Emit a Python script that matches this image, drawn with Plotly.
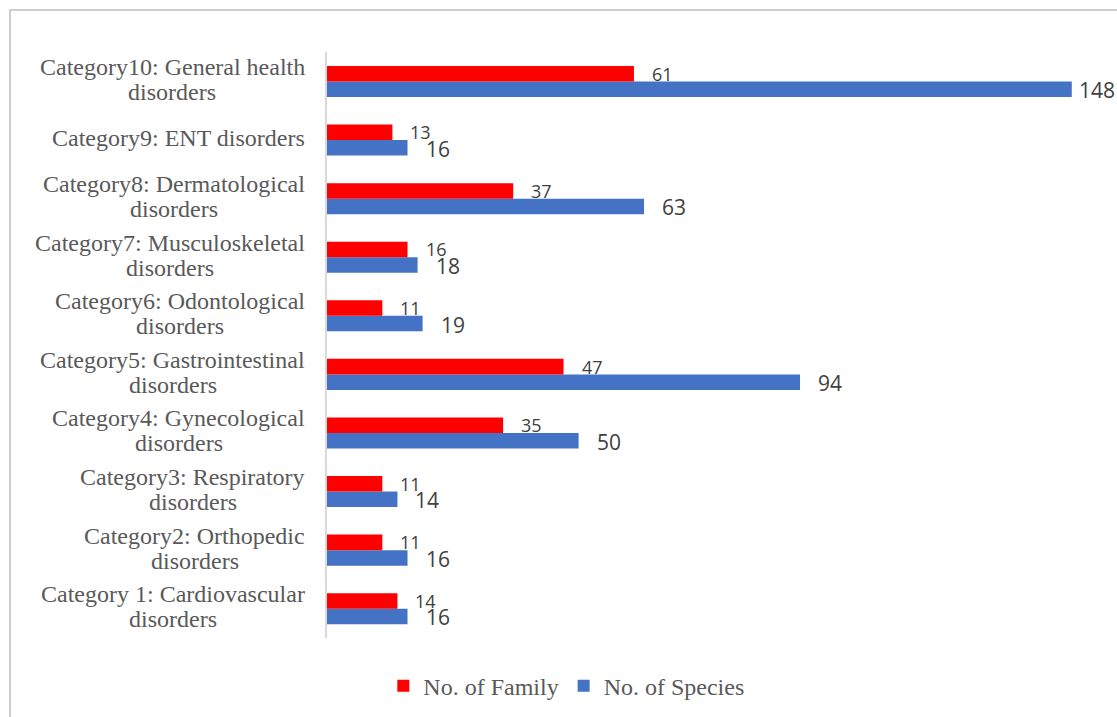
import plotly.graph_objects as go

categories = [
    "Category 1: Cardiovascular<br>disorders",
    "Category2: Orthopedic<br>disorders",
    "Category3: Respiratory<br>disorders",
    "Category4: Gynecological<br>disorders",
    "Category5: Gastrointestinal<br>disorders",
    "Category6: Odontological<br>disorders",
    "Category7: Musculoskeletal<br>disorders",
    "Category8: Dermatological<br>disorders",
    "Category9: ENT disorders",
    "Category10: General health<br>disorders",
]
family = [14, 11, 11, 35, 47, 11, 16, 37, 13, 61]
species = [16, 16, 14, 50, 94, 19, 18, 63, 16, 148]

W, H = 1117, 717
ML, MR, MT, MB = 327, 10, 52, 79
PW = W - ML - MR
PH = H - MT - MB
XMAX = 155.0
PXU = PW / XMAX
BAND = PH / len(categories)
BARGAP = 0.47
OFF = BAND * (1 - BARGAP) / 4  # px offset of each bar center from category center

RED = "#ff0000"
BLUE = "#4472c4"
SERIF = "Liberation Serif, Times New Roman, serif"
SANS = "Open Sans, Liberation Sans, sans-serif"
CAT_FS = 24
LINE_GAP = 25  # px between label lines

# Times / Liberation Serif advance widths (1/1000 em) for measuring label lines
_TW = {" ": 250, ":": 278, ".": 250, "a": 444, "b": 500, "c": 444, "d": 500, "e": 444, "f": 333,
       "g": 500, "h": 500, "i": 278, "j": 278, "k": 500, "l": 278, "m": 778, "n": 500, "o": 500,
       "p": 500, "q": 500, "r": 333, "s": 389, "t": 278, "u": 500, "v": 500, "w": 722, "x": 500,
       "y": 500, "z": 444, "C": 667, "D": 722, "E": 611, "G": 722, "I": 333, "M": 889, "N": 722,
       "O": 722, "P": 556, "R": 667, "S": 556, "T": 611}


def text_w(s, fs):
    return sum(_TW.get(ch, 500) for ch in s) * fs / 1000.0


fig = go.Figure()
fig.add_trace(go.Bar(y=categories, x=species, orientation="h", name="No. of Species",
                     marker=dict(color=BLUE, line=dict(width=0))))
fig.add_trace(go.Bar(y=categories, x=family, orientation="h", name="No. of Family",
                     marker=dict(color=RED, line=dict(width=0))))

annotations = []
# category labels: lines centred on each other, block right-aligned at the axis
RIGHT_PX = -22
for c in categories:
    lines = c.split("<br>")
    maxw = max(text_w(s, CAT_FS) for s in lines)
    n = len(lines)
    for i, s in enumerate(lines):
        annotations.append(dict(x=0, xref="paper", y=c, yref="y", text=s, showarrow=False,
                                xanchor="center", yanchor="middle",
                                xshift=RIGHT_PX - maxw / 2,
                                yshift=((n - 1) / 2 - i) * LINE_GAP + 2,
                                font=dict(family=SERIF, size=CAT_FS, color="#595959")))


def label_shift(v, width):
    room = (XMAX - v) * PXU + MR - 4
    return max(5, min(16, room - width))


for c, v in zip(categories, family):
    annotations.append(dict(x=v, y=c, xref="x", yref="y", text=str(v), showarrow=False,
                            xanchor="left", yanchor="middle", xshift=label_shift(v, 11 * len(str(v))),
                            yshift=OFF, font=dict(family=SANS, size=18, color="#404040")))
for c, v in zip(categories, species):
    annotations.append(dict(x=v, y=c, xref="x", yref="y", text=str(v), showarrow=False,
                            xanchor="left", yanchor="middle", xshift=label_shift(v, 12 * len(str(v))),
                            yshift=-OFF - 1, font=dict(family=SANS, size=21, color="#404040")))

# outer chart border
bx0 = (10 - ML) / PW
bx1 = (W + 5 - ML) / PW
by0 = (MT + PH - (H + 5)) / PH
by1 = (MT + PH - 10) / PH

fig.update_layout(
    width=W, height=H,
    margin=dict(l=ML, r=MR, t=MT, b=MB),
    paper_bgcolor="white", plot_bgcolor="white",
    barmode="group", bargap=BARGAP, bargroupgap=0,
    xaxis=dict(range=[0, XMAX], showgrid=False, zeroline=False, showticklabels=False,
               showline=False, ticks="", fixedrange=True),
    yaxis=dict(showgrid=False, zeroline=False, showticklabels=False, ticks="",
               showline=True, linecolor="#d9d9d9", linewidth=2, fixedrange=True),
    showlegend=True,
    legend=dict(orientation="h", traceorder="reversed", xref="container", yref="container",
                x=0.507, xanchor="center", y=0.043, yanchor="middle",
                font=dict(family=SERIF, size=24, color="#595959"),
                itemwidth=30, bgcolor="rgba(0,0,0,0)"),
    annotations=annotations,
    shapes=[dict(type="rect", xref="paper", yref="paper", x0=bx0, x1=bx1, y0=by0, y1=by1,
                 line=dict(color="#bfbfbf", width=1.5), fillcolor="rgba(0,0,0,0)", layer="below")],
)

fig.write_html("out.html")
